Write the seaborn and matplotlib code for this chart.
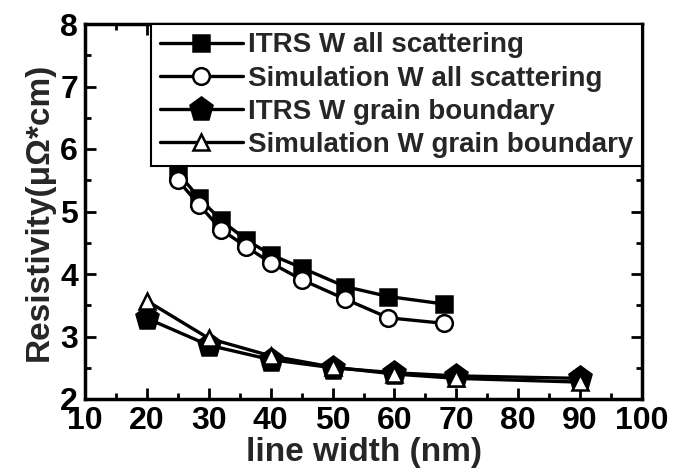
import matplotlib
matplotlib.use("Agg")
import matplotlib.pyplot as plt
import seaborn as sns
import pandas as pd
from matplotlib.ticker import MultipleLocator

# ---- data ----
all_width = [25, 28.5, 32, 36, 40, 45, 52, 59, 68]
itrs_all = [5.62, 5.21, 4.86, 4.55, 4.31, 4.10, 3.80, 3.64, 3.52]
sim_all = [5.50, 5.10, 4.71, 4.44, 4.18, 3.91, 3.60, 3.30, 3.21]

gb_width = [20, 30, 40, 50, 60, 70, 90]
itrs_gb = [3.29, 2.86, 2.63, 2.50, 2.42, 2.37, 2.33]
sim_gb = [3.57, 2.97, 2.69, 2.51, 2.40, 2.33, 2.27]

labels = ["ITRS W all scattering", "Simulation W all scattering",
          "ITRS W grain boundary", "Simulation W grain boundary"]

sns.set_theme(style="ticks")
plt.rcParams['font.family'] = ['Liberation Sans', 'DejaVu Sans']
plt.rcParams['font.weight'] = 'bold'

fig, ax = plt.subplots(figsize=(6.85, 4.70), dpi=100)
fig.subplots_adjust(left=85/685, right=642/685, top=1-24/470, bottom=1-399/470)

series = [
    (all_width, itrs_all, labels[0], dict(marker='s', markersize=11, markerfacecolor='black')),
    (all_width, sim_all, labels[1], dict(marker='o', markersize=12, markerfacecolor='white')),
    (gb_width, itrs_gb, labels[2], dict(marker='p', markersize=17, markerfacecolor='black')),
    (gb_width, sim_gb, labels[3], dict(marker='^', markersize=11, markerfacecolor='white')),
]

for x, y, lab, st in series:
    df = pd.DataFrame({"w": x, "r": y})
    sns.lineplot(data=df, x="w", y="r", ax=ax, color='black', linewidth=2.4,
                 markeredgecolor='black', markeredgewidth=1.8, label=lab, **st)

ax.set_xlim(10, 100)
ax.set_ylim(2, 8)
ax.xaxis.set_major_locator(MultipleLocator(10))
ax.xaxis.set_minor_locator(MultipleLocator(5))
ax.yaxis.set_major_locator(MultipleLocator(1))
ax.yaxis.set_minor_locator(MultipleLocator(0.5))
ax.tick_params(which='both', direction='in', top=True, right=True, width=2, colors='black')
ax.tick_params(which='major', length=8, labelsize=23, pad=5)
ax.tick_params(which='minor', length=4)
for lbl in ax.get_xticklabels() + ax.get_yticklabels():
    lbl.set_fontweight('bold')
for s in ax.spines.values():
    s.set_linewidth(2.5)
    s.set_color('black')

ax.set_xlabel("line width (nm)", fontsize=24, fontweight='bold', labelpad=1)
ax.set_ylabel("Resistivity(μΩ*cm)", fontsize=24, fontweight='bold', labelpad=4)

leg = ax.legend(loc='upper right', borderaxespad=0, frameon=True, fancybox=False,
                edgecolor='black', framealpha=1, handlelength=3.0, handletextpad=0.2,
                labelspacing=0.26, borderpad=0.3, prop={'size': 20, 'weight': 'bold'})
leg.get_frame().set_linewidth(1.5)

fig.savefig("out.png", dpi=100)
